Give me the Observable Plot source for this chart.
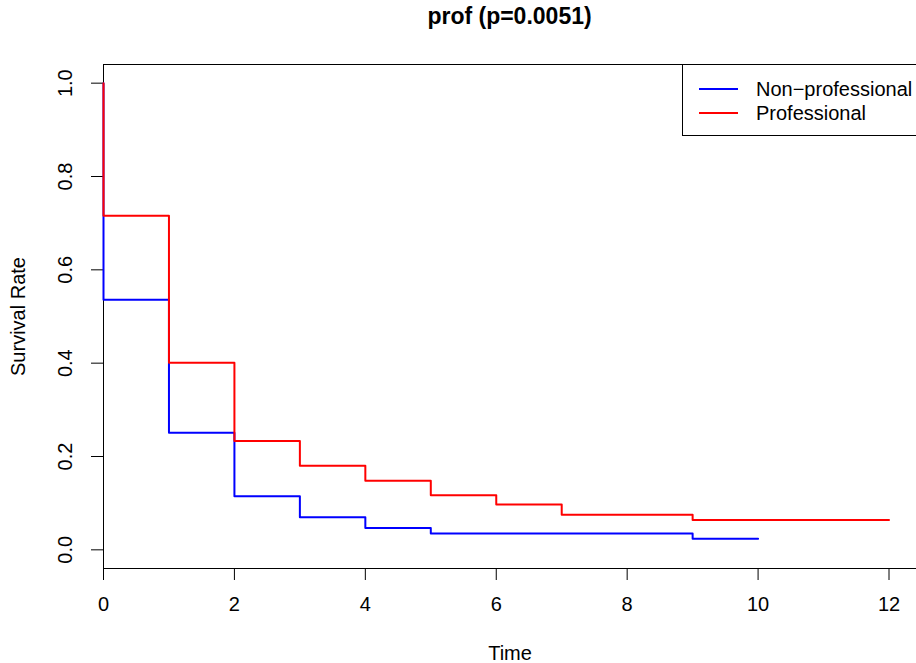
<!DOCTYPE html>
<html>
<head>
<meta charset="utf-8">
<script src="https://cdn.jsdelivr.net/npm/d3@7"></script>
<script src="https://cdn.jsdelivr.net/npm/@observablehq/plot@0.6"></script>
<style>
  html, body { margin: 0; padding: 0; background: #fff; overflow: hidden; }
  #wrap { position: relative; width: 916px; height: 663px; font-family: "Liberation Sans", Arial, sans-serif; }
  #title { height: 40px; margin: 0; padding-top: 1px; box-sizing: border-box; text-align: center; font-weight: bold; font-size: 23px; line-height: 30px; color: #000; padding-left: 103px; }
  #legend { position: absolute; left: 682px; top: 64px; width: 260px; height: 72px; border: 1px solid #000; box-sizing: border-box; background: #fff; }
  .row { position: absolute; left: 0; height: 24px; display: flex; align-items: center; font-size: 20px; color: #000; }
  .sw { width: 39px; height: 2px; margin-left: 16px; margin-right: 18px; }
  svg { display: block; }
</style>
</head>
<body>
<div id="wrap">
  <div id="title"></div>
  <div id="chart"></div>
  <div id="legend"></div>
</div>
<script>
const titleText = "prof (p=0.0051)";
const xLabel = "Time";
const yLabel = "Survival Rate";
const groups = ["Non\u2212professional", "Professional"];
const colors = ["#0000ff", "#ff0000"];

const nonProfTime = [0, 0, 1, 2, 3, 4, 5, 9, 10];
const nonProfSurv = [1.0, 0.536, 0.251, 0.115, 0.070, 0.047, 0.035, 0.024, 0.024];
const profTime = [0, 0, 1, 2, 3, 4, 5, 6, 7, 9, 12];
const profSurv = [1.0, 0.716, 0.401, 0.233, 0.180, 0.148, 0.117, 0.097, 0.075, 0.064, 0.064];

const xTicks = [0, 2, 4, 6, 8, 10, 12];
const yTicks = [0.0, 0.2, 0.4, 0.6, 0.8, 1.0];
const xDomain = [0, 12.42];
const yDomain = [-0.04, 1.04];

const nonProf = nonProfTime.map((t, i) => ({time: t, surv: nonProfSurv[i], group: groups[0]}));
const prof = profTime.map((t, i) => ({time: t, surv: profSurv[i], group: groups[1]}));

document.getElementById("title").textContent = titleText;

const fontSize = 20;
const chart = Plot.plot({
  width: 916,
  height: 623,
  marginLeft: 103,
  marginRight: 0,
  marginTop: 24,
  marginBottom: 95,
  style: {fontFamily: "Liberation Sans, Arial, sans-serif", fontSize: fontSize + "px", color: "#000", background: "#fff"},
  x: {domain: xDomain, axis: null},
  y: {domain: yDomain, axis: null},
  marks: [
    Plot.ruleY([yDomain[1]], {stroke: "#000", strokeWidth: 1}),
    Plot.ruleY([yDomain[0]], {stroke: "#000", strokeWidth: 1}),
    Plot.ruleX([xDomain[0]], {stroke: "#000", strokeWidth: 1}),
    Plot.axisX({ticks: xTicks, tickSize: 12, tickFormat: () => "", label: null, stroke: "#000"}),
    Plot.axisY({ticks: yTicks, tickSize: 12, tickFormat: () => "", label: null, stroke: "#000"}),
    Plot.text(xTicks, {x: d => d, text: d => String(d), frameAnchor: "bottom", dy: 36, lineAnchor: "middle", fontSize: fontSize, fill: "#000"}),
    Plot.text(yTicks, {y: d => d, text: d => d.toFixed(1), frameAnchor: "left", dx: -38, rotate: -90, lineAnchor: "middle", textAnchor: "middle", fontSize: fontSize, fill: "#000"}),
    Plot.text([xLabel], {text: d => d, frameAnchor: "bottom", dy: 85, lineAnchor: "middle", fontSize: fontSize, fill: "#000"}),
    Plot.text([yLabel], {text: d => d, frameAnchor: "left", dx: -85, rotate: -90, lineAnchor: "middle", textAnchor: "middle", fontSize: fontSize, fill: "#000"}),
    Plot.line(nonProf, {x: "time", y: "surv", curve: "step-after", stroke: colors[0], strokeWidth: 2}),
    Plot.line(prof, {x: "time", y: "surv", curve: "step-after", stroke: colors[1], strokeWidth: 2})
  ]
});
document.getElementById("chart").appendChild(chart);

const legend = document.getElementById("legend");
groups.forEach((g, i) => {
  const row = document.createElement("div");
  row.className = "row";
  row.style.top = (12 + i * 24) + "px";
  const sw = document.createElement("div");
  sw.className = "sw";
  sw.style.background = colors[i];
  const label = document.createElement("span");
  label.textContent = g;
  row.appendChild(sw);
  row.appendChild(label);
  legend.appendChild(row);
});
</script>
</body>
</html>
